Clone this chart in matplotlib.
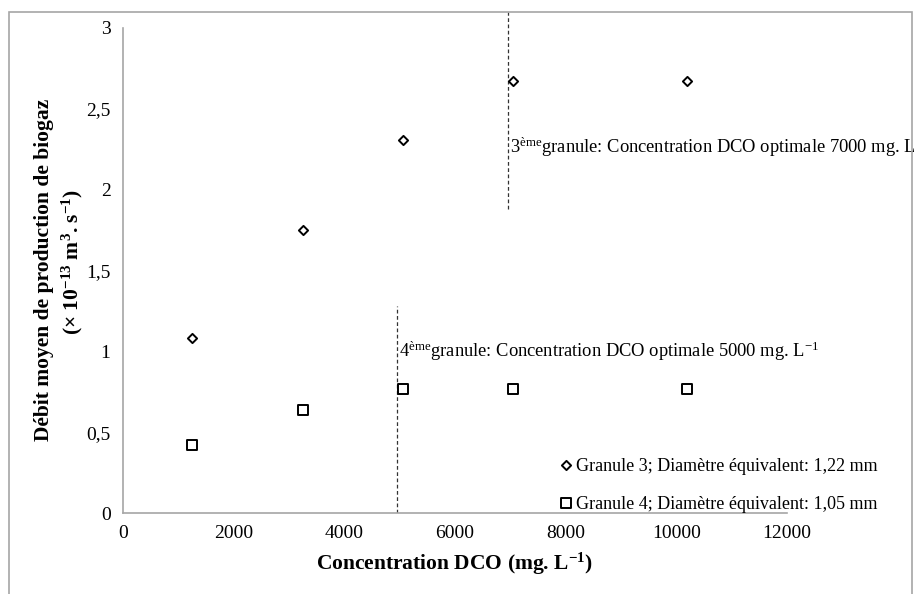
import matplotlib
matplotlib.use("Agg")
import matplotlib.pyplot as plt
from matplotlib.patches import Rectangle

plt.rcParams['font.family'] = ['Liberation Serif', 'DejaVu Serif']
plt.rcParams['mathtext.fontset'] = 'custom'
plt.rcParams['mathtext.rm'] = 'Liberation Serif'
plt.rcParams['mathtext.it'] = 'Liberation Serif:italic'
plt.rcParams['mathtext.bf'] = 'Liberation Serif:bold'

# Data
dco = [1250, 3250, 5060, 7040, 10190]
granule3 = [1.08, 1.75, 2.31, 2.67, 2.67]
granule4 = [0.42, 0.64, 0.77, 0.77, 0.77]
label3 = "Granule 3; Diamètre équivalent: 1,22 mm"
label4 = "Granule 4; Diamètre équivalent: 1,05 mm"
xticks = [0, 2000, 4000, 6000, 8000, 10000, 12000]
yticks = [0, 0.5, 1, 1.5, 2, 2.5, 3]
ytick_labels = ["0", "0,5", "1", "1,5", "2", "2,5", "3"]
opt4_x, opt4_ytop = 4950, 1.28
opt3_x, opt3_ybot = 6950, 1.88

fig = plt.figure(figsize=(9.14, 5.94), dpi=100)
fig.patches.append(Rectangle((9/914, -0.1), 903/914, 1.1 - 12/594, transform=fig.transFigure,
                             fill=False, edgecolor='#a6a6a6', linewidth=1.2))
ax = fig.add_axes([123/914, 1 - 513/594, (787 - 123)/914, (513 - 28)/594])

ax.scatter(dco, granule3, marker='D', s=22, facecolor='white', edgecolor='black', linewidth=1.4,
           label=label3, zorder=3)
ax.scatter(dco, granule4, marker='s', s=55, facecolor='white', edgecolor='black', linewidth=1.4,
           label=label4, zorder=3)

ax.plot([opt4_x, opt4_x], [0, opt4_ytop], ls=(0, (3, 2)), color='#333333', lw=0.9)
ax.plot([opt3_x, opt3_x], [opt3_ybot, 3.1], ls=(0, (3, 2)), color='#333333', lw=0.9, clip_on=False)

ax.text(4990, 1.0, r"4$^{\mathrm{ème}}$granule: Concentration DCO optimale 5000 mg. L$^{-1}$",
        fontsize=13.3, va='center', ha='left')
ax.text(6990, 2.26, r"3$^{\mathrm{ème}}$granule: Concentration DCO optimale 7000 mg. L",
        fontsize=13.3, va='center', ha='left', clip_on=False)

ax.set_xlim(0, 12000)
ax.set_ylim(0, 3)
ax.set_xticks(xticks)
ax.set_yticks(yticks)
ax.set_yticklabels(ytick_labels)
ax.tick_params(length=0, labelsize=14, pad=9)
for s in ['top', 'right']:
    ax.spines[s].set_visible(False)
for s in ['left', 'bottom']:
    ax.spines[s].set_color('#a6a6a6')
    ax.spines[s].set_linewidth(1.2)

ax.set_xlabel(r"Concentration DCO (mg. L$^{\mathbf{-1}}$)", fontsize=15.5, fontweight='bold', labelpad=6)

fig.text(44/914, 1 - 270/594, "Débit moyen de production de biogaz", rotation=90,
         fontsize=15.5, fontweight='bold', ha='center', va='center')
fig.text(72/914, 1 - 262/594, r"(× 10$^{\mathbf{-13}}$ m$^{\mathbf{3}}$. s$^{\mathbf{-1}}$)", rotation=90,
         fontsize=15.5, fontweight='bold', ha='center', va='center')

leg = ax.legend(loc='lower right', bbox_to_anchor=(1.148, -0.015), frameon=False, fontsize=13,
                handletextpad=-0.45, labelspacing=1.15, borderaxespad=0, scatteryoffsets=[0.5])

fig.savefig("out.png", dpi=100)
